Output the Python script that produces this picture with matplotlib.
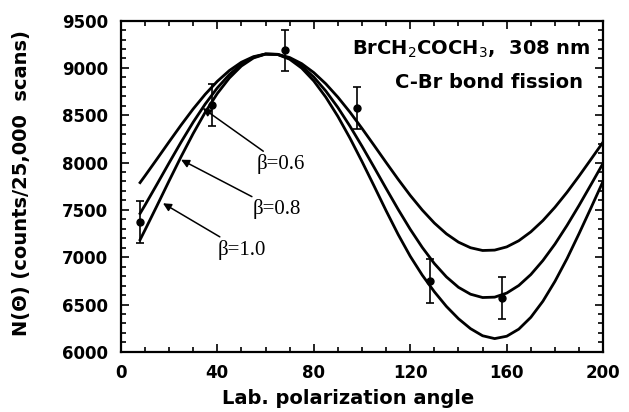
import matplotlib.pyplot as plt
from matplotlib.ticker import MultipleLocator

# polarization angle (deg) at which the fitted curves are sampled
angle = [8, 10, 15, 20, 25, 30, 35, 40, 45, 50, 55, 60, 65, 70, 75, 80, 85, 90, 95, 100,
         105, 110, 115, 120, 125, 130, 135, 140, 145, 150, 155, 160, 165, 170, 175, 180,
         185, 190, 195, 200]

# fitted curves
fit_b06 = [7788, 7858, 8037, 8218, 8396, 8566, 8721, 8858, 8972, 9060, 9119, 9147, 9144,
           9110, 9045, 8951, 8832, 8691, 8533, 8361, 8182, 8001, 7823, 7653, 7498, 7361,
           7247, 7159, 7100, 7071, 7075, 7109, 7174, 7268, 7387, 7528, 7686, 7858, 8037, 8218]
fit_b08 = [7462, 7548, 7770, 7995, 8216, 8426, 8618, 8788, 8930, 9039, 9112, 9147, 9143,
           9100, 9020, 8904, 8756, 8582, 8385, 8173, 7951, 7726, 7505, 7295, 7103, 6933,
           6792, 6682, 6609, 6574, 6578, 6621, 6701, 6817, 6965, 7139, 7336, 7548, 7770, 7995]
fit_b10 = [7184, 7285, 7543, 7805, 8062, 8306, 8531, 8729, 8893, 9020, 9105, 9146, 9142,
           9092, 8998, 8863, 8691, 8488, 8259, 8011, 7753, 7491, 7240, 7010, 6810, 6635,
           6480, 6350, 6245, 6170, 6140, 6165, 6240, 6365, 6535, 6745, 6985, 7250, 7525, 7805]

# measured points
pt_angle = [8, 38, 68, 98, 128, 158]
pt_counts = [7375, 8610, 9185, 8575, 6750, 6570]
pt_err = [220, 220, 220, 220, 230, 218]

plt.rcParams['font.family'] = ['DejaVu Sans']

fig = plt.figure(figsize=(6.29, 4.12), dpi=100)
ax = fig.add_axes([0.192, 0.146, 0.767, 0.804])

for fit in (fit_b06, fit_b08, fit_b10):
    ax.plot(angle, fit, color='black', lw=2.0)

ax.errorbar(pt_angle, pt_counts, yerr=pt_err, fmt='o', color='black', ms=5,
            elinewidth=1.2, capsize=2.8, capthick=1.2)

ax.set_xlim(0, 200)
ax.set_ylim(6000, 9500)
ax.xaxis.set_major_locator(MultipleLocator(40))
ax.xaxis.set_minor_locator(MultipleLocator(10))
ax.yaxis.set_major_locator(MultipleLocator(500))
ax.yaxis.set_minor_locator(MultipleLocator(100))
ax.tick_params(which='both', direction='in', top=True, right=True, width=1.2)
ax.tick_params(which='major', length=6, labelsize=12, pad=9)
ax.tick_params(which='minor', length=3.5)
for lab in ax.get_xticklabels() + ax.get_yticklabels():
    lab.set_fontweight('bold')
for s in ax.spines.values():
    s.set_linewidth(1.6)

ax.set_xlabel('Lab. polarization angle', fontsize=14, fontweight='bold', va='top')
ax.xaxis.set_label_coords(0.472, -0.112)
ax.set_ylabel('N(\u0398) (counts/25,000  scans)', fontsize=14, fontweight='bold')
ax.yaxis.set_label_coords(-0.186, 0.51)

ax.text(0.973, 0.912, 'BrCH$_2$COCH$_3$,  308 nm', transform=ax.transAxes, ha='right',
        va='center', fontsize=14, fontweight='bold')
ax.text(0.959, 0.812, 'C-Br bond fission', transform=ax.transAxes, ha='right',
        va='center', fontsize=14, fontweight='bold')

arrow = dict(arrowstyle='-|>', color='black', lw=1.1, mutation_scale=12, shrinkA=0, shrinkB=0)
serif = ['Liberation Serif', 'DejaVu Serif']
ax.annotate('\u03b2=0.6', xy=(34, 8575), xytext=(56.5, 7985), fontsize=15,
            family=serif, va='center', arrowprops=arrow)
ax.annotate('\u03b2=0.8', xy=(25, 8030), xytext=(54.5, 7505), fontsize=15,
            family=serif, va='center', arrowprops=arrow)
ax.annotate('\u03b2=1.0', xy=(17.5, 7570), xytext=(40, 7080), fontsize=15,
            family=serif, va='center', arrowprops=arrow)

fig.savefig('out.png', dpi=100)
